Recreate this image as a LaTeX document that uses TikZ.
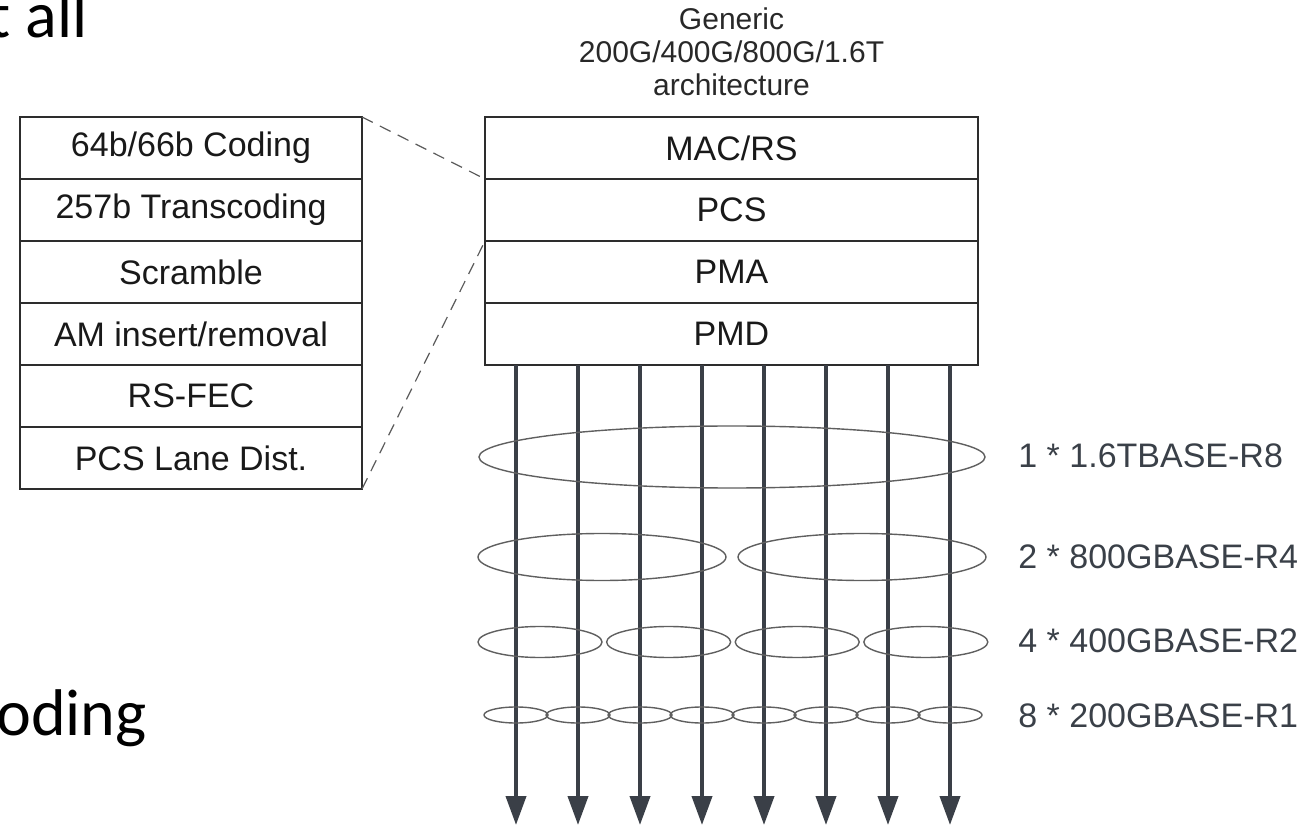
\documentclass[tikz,border=0pt]{standalone}
\usepackage{fontspec}
\setmainfont{Liberation Sans}
\newfontfamily\slidefont{Carlito}
\usepackage{tikz}
\usetikzlibrary{arrows.meta,positioning}

\begin{document}
\begin{tikzpicture}[x=0.5pt,y=0.5pt,yscale=-1,xscale=1,
  layerbox/.style={draw={rgb, 255:red, 45; green, 45; blue, 45 }, line width=0.75pt, outer sep=0pt, inner sep=0pt,
    minimum height=31pt, font=\fontsize{17}{20}\selectfont, text={rgb, 255:red, 25; green, 25; blue, 25 }},
  sublayer/.style={layerbox, minimum width=171pt},
  mainlayer/.style={layerbox, minimum width=246.5pt},
  lane/.style={draw={rgb, 255:red, 58; green, 63; blue, 71 }, line width=2pt, -{Triangle[width=10pt,length=14.5pt]}},
  group/.style={draw={rgb, 255:red, 95; green, 95; blue, 95 }, line width=0.7pt},
  ratelabel/.style={anchor=west, inner sep=0pt, font=\fontsize{17}{20}\selectfont, text={rgb, 255:red, 58; green, 64; blue, 72 }},
  zoomline/.style={draw={rgb, 255:red, 90; green, 90; blue, 90 }, line width=0.6pt, dash pattern=on 6pt off 4pt},
  slidetext/.style={anchor=base west, inner sep=0pt, font=\slidefont\fontsize{33}{40}\selectfont}]
\useasboundingbox (0,0) rectangle (1312,828);
\clip (0,0) rectangle (1312,828);

% slide text cut off at the left
\node [slidetext] (slidetop) at (-12,38) {t all};
\node [slidetext] (slidebottom) at (-4,735) {oding};

% PCS sub-layers
\node [sublayer] (coding) at (191,148) {64b/66b Coding};
\node [sublayer, below=0pt of coding] (transcoding) {257b Transcoding};
\node [sublayer, below=0pt of transcoding] (scramble) {Scramble};
\node [sublayer, below=0pt of scramble] (aminsert) {AM insert/removal};
\node [sublayer, below=0pt of aminsert] (rsfec) {RS-FEC};
\node [sublayer, below=0pt of rsfec] (lanedist) {PCS Lane Dist.};

% generic architecture stack
\node [align=center, inner sep=0pt, font=\fontsize{15}{16.5}\selectfont, text={rgb, 255:red, 40; green, 40; blue, 40 }] (title) at (731.5,52) {Generic\\200G/400G/800G/1.6T\\architecture};
\node [mainlayer] (macrs) at (731.5,148) {MAC/RS};
\node [mainlayer, below=0pt of macrs] (pcs) {PCS};
\node [mainlayer, below=0pt of pcs] (pma) {PMA};
\node [mainlayer, below=0pt of pma] (pmd) {PMD};

% zoom lines
\draw [zoomline] (coding.north east) -- (pcs.north west);
\draw [zoomline] (lanedist.south east) -- (pcs.south west);

% lanes
\foreach \i in {0,...,7} {
  \coordinate (laneend\i) at (516+62*\i,825);
  \draw [lane] (pmd.south -| laneend\i) -- (laneend\i);
}

% port groupings
\draw [group] (732,457) ellipse [x radius=253, y radius=31];
\foreach \i in {0,1}
  \draw [group] (602+260*\i,557) ellipse [x radius=124, y radius=23.5];
\foreach \i in {0,...,3}
  \draw [group] (540+128.6*\i,642) ellipse [x radius=62, y radius=15.5];
\foreach \i in {0,...,7}
  \draw [group] (516+62*\i,715) ellipse [x radius=32, y radius=8];

% Text Node
\node [ratelabel] (r16t) at (1018,456) {1 * 1.6TBASE-R8};
\node [ratelabel] (r800) at (1018,557) {2 * 800GBASE-R4};
\node [ratelabel] (r400) at (1018,641) {4 * 400GBASE-R2};
\node [ratelabel] (r200) at (1018,716) {8 * 200GBASE-R1};

\end{tikzpicture}
\end{document}
